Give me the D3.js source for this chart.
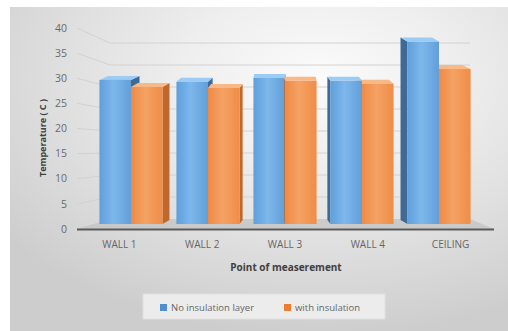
<!DOCTYPE html>
<html>
<head>
<meta charset="utf-8">
<script src="https://cdn.jsdelivr.net/npm/d3@7"></script>
<style>
  body { margin: 0; background: #fff; }
  svg { display: block; font-family: "Open Sans", "Liberation Sans", sans-serif; }
</style>
</head>
<body>
<div id="chart"></div>
<script>
const categories = ["WALL 1", "WALL 2", "WALL 3", "WALL 4", "CEILING"];
const seriesNames = ["No insulation layer", "with insulation"];
const noInsulation = [30.5, 30.1, 30.9, 30.3, 38.6];
const withInsulation = [29.0, 28.8, 30.3, 29.7, 32.8];
const yTicks = [0, 5, 10, 15, 20, 25, 30, 35, 40];

const width = 508, height = 331;
const vanishX = 285;   // centre of the perspective
const depthK = 0.05;   // how much side faces show

const svg = d3.select("#chart").append("svg")
    .attr("width", width)
    .attr("height", height);

const defs = svg.append("defs");

const bg = defs.append("radialGradient")
    .attr("id", "bg")
    .attr("cx", "0.62").attr("cy", "0.22").attr("r", "0.8");
bg.append("stop").attr("offset", "0").attr("stop-color", "#fbfbfb");
bg.append("stop").attr("offset", "0.35").attr("stop-color", "#eeeeee");
bg.append("stop").attr("offset", "0.75").attr("stop-color", "#dadada");
bg.append("stop").attr("offset", "1").attr("stop-color", "#cdcdcd");

function faceGradient(id, c1, c2, c3) {
    const g = defs.append("linearGradient").attr("id", id)
        .attr("x1", "0").attr("x2", "1").attr("y1", "0").attr("y2", "0");
    g.append("stop").attr("offset", "0").attr("stop-color", c1);
    g.append("stop").attr("offset", "0.45").attr("stop-color", c2);
    g.append("stop").attr("offset", "1").attr("stop-color", c3);
}
faceGradient("blueFront", "#5f9fdb", "#7db7ec", "#629fd8");
faceGradient("orangeFront", "#ee8a45", "#f5a264", "#ef8d48");

const colors = {
    front: ["url(#blueFront)", "url(#orangeFront)"],
    side: ["#3e6a96", "#c2672a"],
    top: ["#9ccbf3", "#f8b987"],
    legend: ["#4f8fd0", "#ed7d31"]
};

// chart background
svg.append("rect")
    .attr("x", 10).attr("y", 7)
    .attr("width", width - 10).attr("height", height - 7)
    .attr("fill", "url(#bg)");

// scales: front edge (axis labels), back wall, and bar depth
const yFront = d3.scaleLinear().domain([0, 40]).range([229, 28]);
const yBack = d3.scaleLinear().domain([0, 40]).range([219, 43]);
const yBar = d3.scaleLinear().domain([0, 40]).range([224, 35]);

const xFront = d3.scaleBand().domain(categories).range([78, 492]);
const f = 0.93;
const xBar = d3.scaleBand().domain(categories)
    .range([vanishX + (78 - vanishX) * f, vanishX + (492 - vanishX) * f])
    .paddingInner(0.18).paddingOuter(0.09);
const xSeries = d3.scaleBand().domain(seriesNames).range([0, xBar.bandwidth()]);

// gridlines on side wall + back wall
const backLeft = 110, backRight = 470, frontLeft = 77;
svg.append("g").selectAll("path")
    .data(yTicks.filter(d => d > 0))
    .enter().append("path")
    .attr("d", d => `M${frontLeft},${yFront(d)}L${backLeft},${yBack(d)}L${backRight},${yBack(d)}`)
    .attr("fill", "none")
    .attr("stroke", "#d2d2d2")
    .attr("stroke-width", 1);

// floor
svg.append("path")
    .attr("d", `M${frontLeft},229L${backLeft},${yBack(0)}L${backRight},${yBack(0)}L494,229Z`)
    .attr("fill", "#c4c4c4")
    .attr("opacity", 0.8);
svg.append("line")
    .attr("x1", frontLeft).attr("x2", 494)
    .attr("y1", 229.5).attr("y2", 229.5)
    .attr("stroke", "#5a5a5a")
    .attr("stroke-width", 2);

// y tick labels
svg.append("g").selectAll("text")
    .data(yTicks)
    .enter().append("text")
    .attr("x", 67)
    .attr("y", d => yFront(d))
    .attr("dy", "0.35em")
    .attr("text-anchor", "end")
    .attr("font-size", 10.5)
    .attr("fill", "#6a6a6a")
    .text(d => d);

// bars
const bars = [];
categories.forEach((c, i) => {
    [noInsulation[i], withInsulation[i]].forEach((v, s) => {
        const x0 = xBar(c) + xSeries(seriesNames[s]);
        const x1 = x0 + xSeries.bandwidth();
        const cx = (x0 + x1) / 2;
        bars.push({ c, s, v, x0, x1, cx, dx: -(cx - vanishX) * depthK });
    });
});
bars.sort((a, b) => Math.abs(b.cx - vanishX) - Math.abs(a.cx - vanishX));

const barG = svg.append("g");
const dy = -4;
bars.forEach(b => {
    const yt = yBar(b.v), yb = yBar(0);
    const g = barG.append("g");
    const sx = b.dx > 0 ? b.x1 : b.x0;
    g.append("path")
        .attr("d", `M${sx},${yt}L${sx + b.dx},${yt + dy}L${sx + b.dx},${yb + dy}L${sx},${yb}Z`)
        .attr("fill", colors.side[b.s]);
    g.append("path")
        .attr("d", `M${b.x0},${yt}L${b.x1},${yt}L${b.x1 + b.dx},${yt + dy}L${b.x0 + b.dx},${yt + dy}Z`)
        .attr("fill", colors.top[b.s]);
    g.append("rect")
        .attr("x", b.x0).attr("y", yt)
        .attr("width", b.x1 - b.x0).attr("height", yb - yt)
        .attr("fill", colors.front[b.s]);
});

// category labels
svg.append("g").selectAll("text")
    .data(categories)
    .enter().append("text")
    .attr("x", d => xFront(d) + xFront.bandwidth() / 2)
    .attr("y", 248)
    .attr("text-anchor", "middle")
    .attr("font-size", 10)
    .attr("fill", "#666666")
    .text(d => d);

// axis titles
svg.append("text")
    .attr("x", 286).attr("y", 271)
    .attr("text-anchor", "middle")
    .attr("font-size", 10)
    .attr("font-weight", "bold")
    .attr("fill", "#404040")
    .text("Point of measerement");

svg.append("text")
    .attr("transform", "translate(46,138) rotate(-90)")
    .attr("text-anchor", "middle")
    .attr("font-size", 9)
    .attr("font-weight", "bold")
    .attr("fill", "#404040")
    .text("Temperature ( C )");

// legend
const legend = svg.append("g");
legend.append("rect")
    .attr("x", 143).attr("y", 294)
    .attr("width", 242).attr("height", 25)
    .attr("fill", "#ececec")
    .attr("stroke", "#e0e0e0");
const legendX = [160, 284];
seriesNames.forEach((name, i) => {
    legend.append("rect")
        .attr("x", legendX[i]).attr("y", 304)
        .attr("width", 7).attr("height", 7)
        .attr("fill", colors.legend[i]);
    legend.append("text")
        .attr("x", legendX[i] + 11).attr("y", 307.5)
        .attr("dy", "0.35em")
        .attr("font-size", 9.5)
        .attr("fill", "#666666")
        .text(name);
});
</script>
</body>
</html>
